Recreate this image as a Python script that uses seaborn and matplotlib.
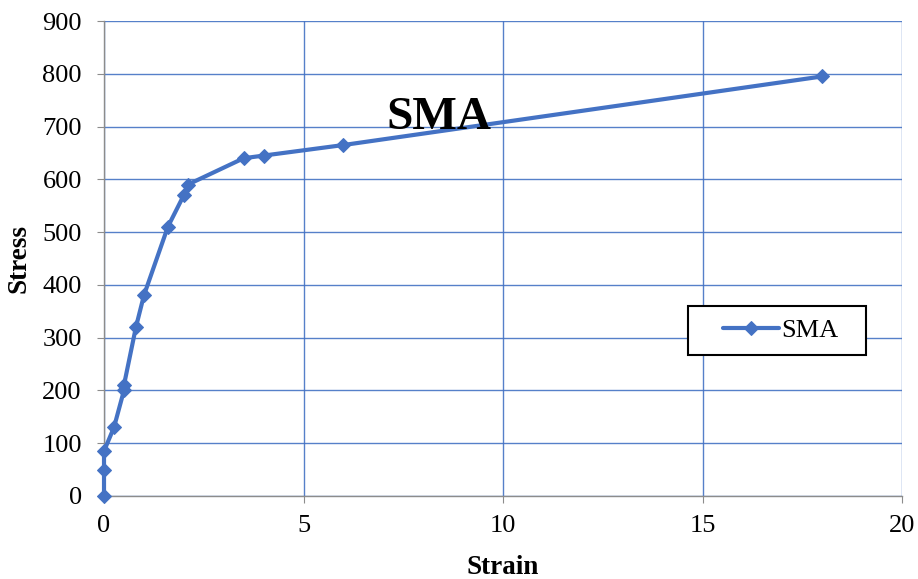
import seaborn as sns
import pandas as pd
import matplotlib.pyplot as plt
from matplotlib.patches import Rectangle

# stress-strain values
strain = [0, 0, 0, 0.25, 0.5, 0.5, 0.8, 1.0, 1.6, 2.0, 2.1, 3.5, 4.0, 6.0, 18.0]
stress = [0, 50, 85, 130, 200, 210, 320, 380, 510, 570, 590, 640, 645, 665, 795]
series = ["SMA"] * len(strain)

df = pd.DataFrame({"Strain": strain, "Stress": stress, "series": series})

sns.set_style("white")
plt.rcParams["font.family"] = ["Liberation Serif", "DejaVu Serif"]
plt.rcParams["text.color"] = "black"
plt.rcParams["axes.labelcolor"] = "black"

fig = plt.figure(figsize=(9.18, 5.79), dpi=100)
ax = fig.add_axes([0.1133, 0.1434, 0.8693, 0.8203])

line_col = "#4472C4"
sns.lineplot(data=df, x="Strain", y="Stress", hue="series", palette=[line_col],
             sort=False, estimator=None, marker="D", markersize=7.5,
             markeredgecolor=line_col, linewidth=3, ax=ax, clip_on=False,
             zorder=5)

ax.set_xlim(0, 20)
ax.set_ylim(0, 900)
ax.set_xticks(range(0, 21, 5))
ax.set_yticks(range(0, 901, 100))
ax.grid(True, color=line_col, linewidth=1, alpha=0.9)
ax.set_axisbelow(True)
for s in ["top", "right"]:
    ax.spines[s].set_visible(False)
for s in ["left", "bottom"]:
    ax.spines[s].set_color("#8c8c8c")
    ax.spines[s].set_linewidth(1)
ax.tick_params(axis="both", labelsize=19, length=5, color="#8c8c8c",
               labelcolor="black", direction="out", left=True, bottom=True)
ax.tick_params(axis="y", pad=11)
ax.tick_params(axis="x", pad=9)

ax.set_xlabel("Strain", fontsize=19.5, fontweight="bold", labelpad=13)
ax.set_ylabel("Stress", fontsize=19.5, fontweight="bold", labelpad=8)

ax.text(8.4, 717, "SMA", fontsize=34, fontweight="bold", color="black",
        ha="center", va="center", zorder=10)

# legend box like the reference: wider frame drawn separately
leg = ax.legend(loc="center", bbox_to_anchor=(0.848, 0.348), fontsize=19,
                frameon=False, handlelength=2.1, handletextpad=0.1,
                borderaxespad=0)
for t in leg.get_texts():
    t.set_color("black")
ax.add_patch(Rectangle((0.732, 0.297), 0.223, 0.103, transform=ax.transAxes,
                       facecolor="white", edgecolor="black", linewidth=1.5,
                       zorder=6))
leg.set_zorder(7)

fig.savefig("out.png", dpi=100)
